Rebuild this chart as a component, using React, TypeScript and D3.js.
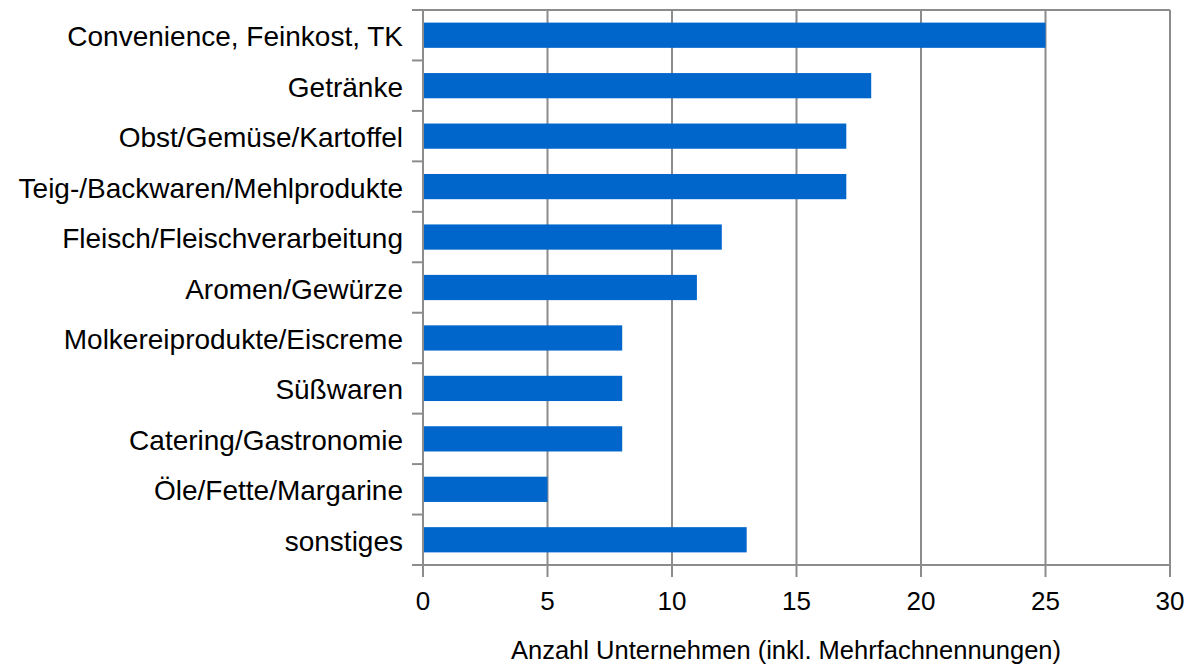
import React, { useEffect, useRef } from 'react';
import * as d3 from 'd3';

const categories = [
  'Convenience, Feinkost, TK',
  'Getränke',
  'Obst/Gemüse/Kartoffel',
  'Teig-/Backwaren/Mehlprodukte',
  'Fleisch/Fleischverarbeitung',
  'Aromen/Gewürze',
  'Molkereiprodukte/Eiscreme',
  'Süßwaren',
  'Catering/Gastronomie',
  'Öle/Fette/Margarine',
  'sonstiges',
];
const values = [25, 18, 17, 17, 12, 11, 8, 8, 8, 5, 13];
const xTicks = [0, 5, 10, 15, 20, 25, 30];
const xTitle = 'Anzahl Unternehmen (inkl. Mehrfachnennungen)';

const W = 1194;
const H = 669;
const FONT = 'Liberation Sans, Arial, sans-serif';
const GRID = '#8c8c8c';
const BAR = '#0066cc';

const App: React.FC = () => {
  const svgRef = useRef<SVGSVGElement>(null);

  useEffect(() => {
    document.body.style.margin = '0';
    if (!svgRef.current) return;
    const svg = d3.select(svgRef.current);
    svg.selectAll('*').remove();

    const left = 423, right = 1170, top = 10, bottom = 565;

    const x = d3.scaleLinear().domain([0, 30]).range([left, right]);
    const y = d3.scaleBand<string>().domain(categories).range([top, bottom]).paddingInner(0.5).paddingOuter(0.25);

    // grid lines
    svg.append('g')
      .selectAll('line')
      .data(xTicks.slice(1))
      .enter()
      .append('line')
      .attr('x1', d => x(d))
      .attr('x2', d => x(d))
      .attr('y1', top)
      .attr('y2', bottom)
      .attr('stroke', GRID)
      .attr('stroke-width', 2);

    // top border
    svg.append('line')
      .attr('x1', left - 11).attr('x2', right)
      .attr('y1', top).attr('y2', top)
      .attr('stroke', GRID).attr('stroke-width', 2);

    // bars
    svg.append('g')
      .selectAll('rect')
      .data(values)
      .enter()
      .append('rect')
      .attr('x', x(0))
      .attr('y', (d, i) => y(categories[i]) || 0)
      .attr('width', d => x(d) - x(0))
      .attr('height', y.bandwidth())
      .attr('fill', BAR);

    // left axis line + ticks at category boundaries
    svg.append('line')
      .attr('x1', left).attr('x2', left)
      .attr('y1', top).attr('y2', bottom)
      .attr('stroke', GRID).attr('stroke-width', 2);
    const step = (bottom - top) / categories.length;
    svg.append('g')
      .selectAll('line')
      .data(d3.range(categories.length + 1))
      .enter()
      .append('line')
      .attr('x1', left - 11).attr('x2', left)
      .attr('y1', d => top + d * step).attr('y2', d => top + d * step)
      .attr('stroke', GRID).attr('stroke-width', 2);

    // bottom axis line + ticks
    svg.append('line')
      .attr('x1', left - 11).attr('x2', right)
      .attr('y1', bottom).attr('y2', bottom)
      .attr('stroke', GRID).attr('stroke-width', 2);
    svg.append('g')
      .selectAll('line')
      .data(xTicks)
      .enter()
      .append('line')
      .attr('x1', d => x(d)).attr('x2', d => x(d))
      .attr('y1', bottom).attr('y2', bottom + 12)
      .attr('stroke', GRID).attr('stroke-width', 2);

    // category labels
    svg.append('g')
      .selectAll('text')
      .data(categories)
      .enter()
      .append('text')
      .attr('x', 403)
      .attr('y', d => (y(d) || 0) + y.bandwidth() / 2 + 11)
      .attr('text-anchor', 'end')
      .attr('font-family', FONT)
      .attr('font-size', 28)
      .attr('fill', '#000')
      .text(d => d);

    // x tick labels
    svg.append('g')
      .selectAll('text')
      .data(xTicks)
      .enter()
      .append('text')
      .attr('x', d => x(d))
      .attr('y', 610)
      .attr('text-anchor', 'middle')
      .attr('font-family', FONT)
      .attr('font-size', 26)
      .attr('fill', '#000')
      .text(d => d);

    svg.append('text')
      .attr('x', 786)
      .attr('y', 659)
      .attr('text-anchor', 'middle')
      .attr('font-family', FONT)
      .attr('font-size', 25.5)
      .attr('fill', '#000')
      .text(xTitle);
  }, []);

  return <svg ref={svgRef} width={W} height={H} style={{ display: 'block', background: '#fff' }} />;
};

export default App;
